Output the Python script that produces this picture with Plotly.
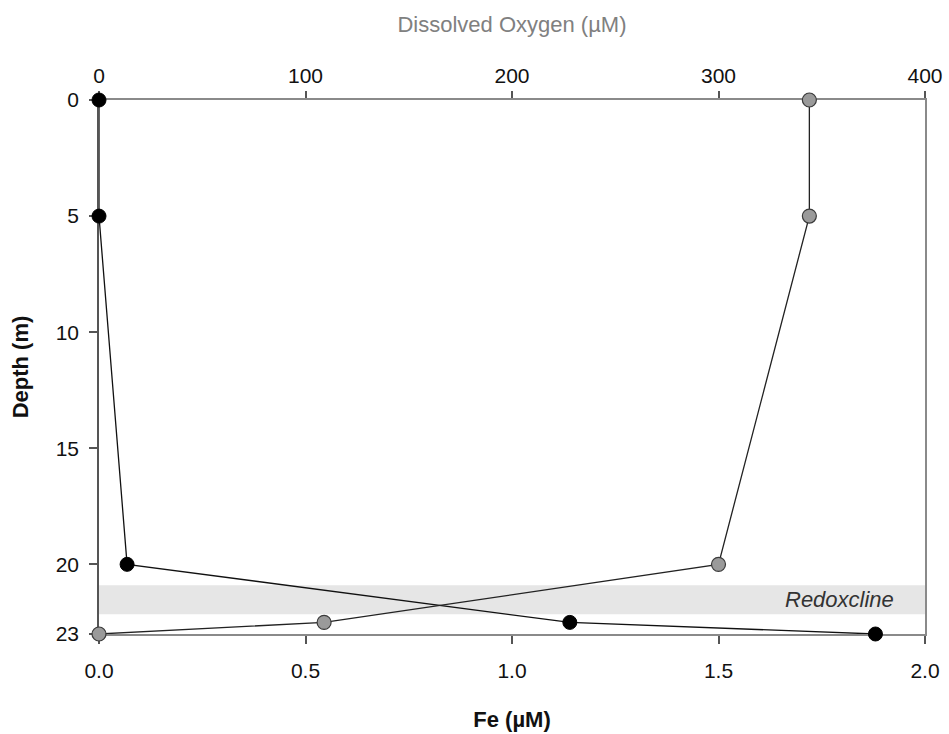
import plotly.graph_objects as go

# Depth profiles (m) of dissolved Fe and dissolved oxygen
depth_fe = [0, 5, 20, 22.5, 23]
fe_um = [0.0, 0.0, 0.068, 1.14, 1.88]

depth_do = [0, 5, 20, 22.5, 23]
do_um = [344, 344, 300, 109, 0]

# Redoxcline depth interval (m)
redox_top = 20.9
redox_bottom = 22.15

depth_ticks = [0, 5, 10, 15, 20, 23]
fe_ticks = [0.0, 0.5, 1.0, 1.5, 2.0]
do_ticks = [0, 100, 200, 300, 400]

FONT = "Liberation Sans, Arial, sans-serif"
AXIS_COLOR = "#8a8a8a"
TICK_SIZE = 21
TITLE_SIZE = 22

fig = go.Figure()

fig.add_trace(go.Scatter(
    x=do_um, y=depth_do, xaxis="x2", yaxis="y",
    mode="lines+markers", cliponaxis=False,
    line=dict(color="#222222", width=1.3),
    marker=dict(size=14, color="#9a9a9a", line=dict(color="#3a3a3a", width=1.2)),
    name="Dissolved Oxygen",
))

fig.add_trace(go.Scatter(
    x=fe_um, y=depth_fe, xaxis="x", yaxis="y",
    mode="lines+markers", cliponaxis=False,
    line=dict(color="#111111", width=1.3),
    marker=dict(size=14, color="#000000", line=dict(color="#000000", width=1)),
    name="Fe",
))

fig.add_shape(
    type="rect", xref="paper", yref="y",
    x0=0, x1=1, y0=redox_top, y1=redox_bottom,
    fillcolor="#e6e6e6", line=dict(width=0), layer="below",
)

fig.add_annotation(
    x=1.93, y=(redox_top + redox_bottom) / 2, xref="x", yref="y",
    text="<i>Redoxcline</i>", showarrow=False, xanchor="right", yanchor="middle",
    font=dict(family=FONT, size=22, color="#333333"),
)

fig.update_layout(
    width=949, height=734,
    margin=dict(l=99, r=24, t=100, b=100),
    paper_bgcolor="white", plot_bgcolor="white",
    showlegend=False,
    font=dict(family=FONT, size=TICK_SIZE, color="#111111"),
    xaxis=dict(
        range=[0, 2], tickvals=fe_ticks, ticktext=["0.0", "0.5", "1.0", "1.5", "2.0"],
        showgrid=False, zeroline=False, automargin=False,
        showline=True, linecolor=AXIS_COLOR, linewidth=2,
        ticks="outside", ticklen=8, tickwidth=1.5, tickcolor="#555555",
        ticklabelstandoff=9,
        layer="below traces",
        title=dict(text="<b>Fe (µM)</b>", font=dict(family=FONT, size=TITLE_SIZE, color="#111111"), standoff=30),
    ),
    xaxis2=dict(
        range=[0, 400], tickvals=do_ticks,
        overlaying="x", side="top", anchor="y",
        showgrid=False, zeroline=False, automargin=False,
        showline=True, linecolor=AXIS_COLOR, linewidth=2,
        ticks="outside", ticklen=7, tickwidth=1.5, tickcolor="#555555",
        ticklabelstandoff=0,
        layer="below traces",
        title=dict(text="Dissolved Oxygen (µM)", font=dict(family=FONT, size=TITLE_SIZE, color="#808080"), standoff=25),
    ),
    yaxis=dict(
        range=[23, 0], tickvals=depth_ticks,
        showgrid=False, zeroline=False, automargin=False,
        showline=True, linecolor="#555555", linewidth=1.5,
        ticks="outside", ticklen=8, tickwidth=1.5, tickcolor="#555555",
        ticklabelstandoff=6,
        layer="below traces",
        title=dict(text="<b>Depth (m)</b>", font=dict(family=FONT, size=TITLE_SIZE, color="#111111"), standoff=21),
    ),
    yaxis2=dict(
        overlaying="y", side="right", range=[23, 0], automargin=False,
        showline=True, linecolor=AXIS_COLOR, linewidth=2,
        showticklabels=False, ticks="", showgrid=False, zeroline=False,
    ),
)

# Empty trace on the secondary y axis so the right-hand frame line is drawn
fig.add_trace(go.Scatter(x=[None], y=[None], xaxis="x", yaxis="y2", showlegend=False, hoverinfo="skip"))

fig.write_html("out.html")
